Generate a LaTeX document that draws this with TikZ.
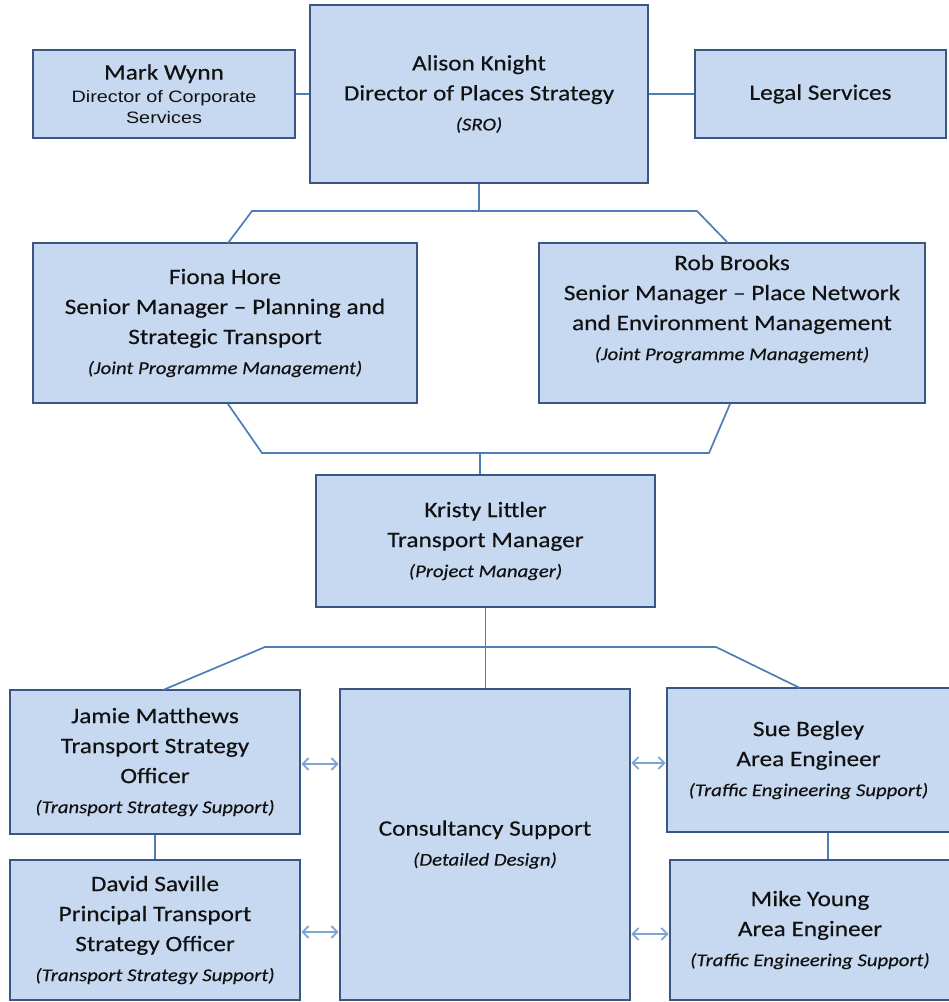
\documentclass[tikz,border=0pt]{standalone}
\usepackage{fontspec}
\setmainfont{Carlito}[FakeStretch=1.15,FakeBold=0.3]
\newfontfamily\arialf{Liberation Sans}[FakeStretch=1.2]
\usetikzlibrary{arrows.meta,calc}
\definecolor{boxfill}{HTML}{C6D9F1}
\definecolor{boxline}{HTML}{3A5683}
\definecolor{connc}{HTML}{4F7DB8}
\definecolor{arrc}{HTML}{7FA5D3}
\definecolor{txtc}{HTML}{111111}
\newcommand\fnm{\fontsize{22}{30}\selectfont}
\newcommand\fsb{\fontsize{18}{30}\selectfont\itshape}
\newcommand\fmw{\arialf\fontsize{16.5}{21}\selectfont}
\begin{document}
\begin{tikzpicture}[x=1pt,y=-1pt,
  box/.style={draw=boxline, line width=2.8pt, fill=boxfill, inner sep=0pt,
    align=center, text=txtc, font=\fnm},
  txtnode/.style={inner sep=0pt, align=center, text=txtc, font=\fnm},
  conn/.style={draw=connc, line width=1.7pt},
  arr/.style={draw=arrc, line width=1.7pt,
    {Straight Barb[length=6pt,width=12pt]}-{Straight Barb[length=6pt,width=12pt]}}]
\useasboundingbox (0,0) rectangle (949,1002);
\clip (0,0) rectangle (949,1002);
\fill[white] (0,0) rectangle (949,1002);

% top row
\node[box, minimum width=338, minimum height=178] (alison) at (479,94)
  {Alison Knight\\Director of Places Strategy\\{\fsb (SRO)}};
\node[box, minimum width=262, minimum height=88] (mark) at (164,94)
  {Mark Wynn\\[-7pt]{\fmw Director of Corporate}\\[-9pt]{\fmw Services}};
\node[box, minimum width=251, minimum height=88] (legal) at (820.5,94)
  {Legal Services};

% second row
\node[box, minimum width=384, minimum height=160] (fiona) at (225,323)
  {Fiona Hore\\Senior Manager -- Planning and\\Strategic Transport\\{\fsb (Joint Programme Management)}};
\node[box, minimum width=386, minimum height=160] (rob) at (732,323) {};
\node[txtnode] (robt) at (732,309)
  {Rob Brooks\\Senior Manager -- Place Network\\and Environment Management\\{\fsb (Joint Programme Management)}};

% third row
\node[box, minimum width=339, minimum height=132] (kristy) at (485.5,541)
  {Kristy Littler\\Transport Manager\\{\fsb (Project Manager)}};

% bottom rows
\node[box, minimum width=290, minimum height=144] (jamie) at (155,762)
  {Jamie Matthews\\Transport Strategy\\Officer\\{\fsb (Transport Strategy Support)}};
\node[box, minimum width=290, minimum height=311] (cons) at (485,844.5)
  {Consultancy Support\\{\fsb (Detailed Design)}};
\node[box, minimum width=283, minimum height=144] (sue) at (808.5,760)
  {Sue Begley\\Area Engineer\\{\fsb (Traffic Engineering Support)}};
\node[box, minimum width=290, minimum height=140] (david) at (155,930)
  {David Saville\\Principal Transport\\Strategy Officer\\{\fsb (Transport Strategy Support)}};
\node[box, minimum width=280, minimum height=140] (mike) at (810,930)
  {Mike Young\\Area Engineer\\{\fsb (Traffic Engineering Support)}};

% connectors top
\draw[conn] (mark.east) -- (mark.east -| alison.west);
\draw[conn] (alison.east |- legal.west) -- (legal.west);

\coordinate (b1) at (228,243);
\coordinate (b2) at (252,211);
\coordinate (b3) at (697,211);
\coordinate (b4) at (728,243);
\draw[conn] (alison.south) -- (alison.south |- b2);
\draw[conn] (b1) -- (b2) -- (b3) -- (b4);

\coordinate (c1) at (228,404);
\coordinate (c2) at (262,453);
\coordinate (c3) at (709,453);
\coordinate (c4) at (730,404);
\draw[conn] (c1) -- (c2) -- (c3) -- (c4);
\draw[conn] (kristy.north -| 480,0) -- (480,453);

\coordinate (d1) at (163,690);
\coordinate (d2) at (265,647);
\coordinate (d3) at (716,647);
\coordinate (d4) at (800,688);
\draw[conn] (d1) -- (d2) -- (d3) -- (d4);
\draw[conn] (kristy.south) -- (kristy.south |- cons.north);

\draw[conn] (jamie.south) -- (david.north);
\draw[conn] (sue.south -| 828,0) -- (mike.north -| 828,0);

% arrows
\draw[arr] ([yshift=-2]jamie.east) -- ([yshift=-2]jamie.east -| cons.west);
\draw[arr] ([yshift=-2]david.east) -- ([yshift=-2]david.east -| cons.west);
\draw[arr] ([yshift=-3]sue.west -| cons.east) -- ([yshift=-3]sue.west);
\draw[arr] ([yshift=-4]mike.west -| cons.east) -- ([yshift=-4]mike.west);
\end{tikzpicture}
\end{document}
